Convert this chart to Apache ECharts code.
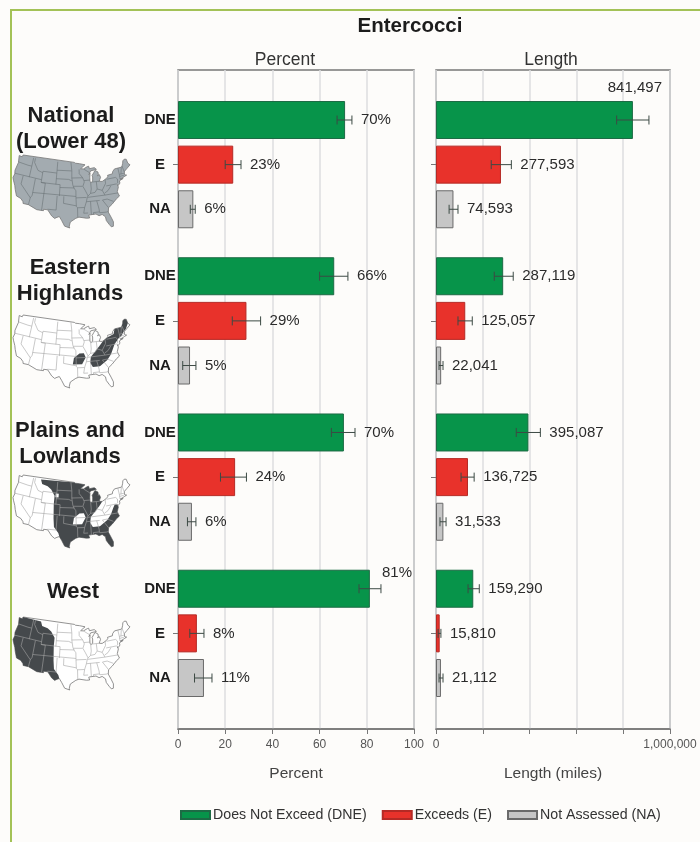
<!DOCTYPE html>
<html><head><meta charset="utf-8">
<style>html,body{margin:0;padding:0;background:#fdfcfa}#c{width:700px;height:842px}</style>
<script src="https://cdn.jsdelivr.net/npm/echarts@6/dist/echarts.min.js"></script>
</head><body><div id="c"></div>
<script>
// ---------- data ----------
const regions = ['National', 'Eastern Highlands', 'Plains and Lowlands', 'West'];
const classes = ['DNE', 'E', 'NA'];
const classNames = ['Does Not Exceed (DNE)', 'Exceeds (E)', 'Not Assessed (NA)'];
const percentBars   = [70.8,23.4,6.5, 66.2,29,5.1, 70.3,24.2,5.9, 81.3,8,11];
const percentLow    = [67.4,20,5.2, 60,23,2, 65,18,4, 76.7,5,7];
const percentHigh   = [73.7,26.7,7.3, 72,35,7.6, 75,29,7.6, 86,11,14.4];
const percentLabels = ['70%','23%','6%','66%','29%','5%','70%','24%','6%','81%','8%','11%'];
const lengthBars    = [841497,277593,74593, 287119,125057,22041, 395087,136725,31533, 159290,15810,21112];
const lengthLow     = [772000,236000,56000, 249000,94000,13000, 343000,107000,17000, 137000,9000,13000];
const lengthHigh    = [910000,322000,94000, 330000,155000,30000, 446000,163000,43000, 185000,21000,30000];
const percentTicks  = [0,20,40,60,80,100];
const lengthTickLabels = {0:'0', 1000000:'1,000,000'};

// ---------- category rows: three bars each, blank rows between groups ----------
const rows = [];
const rowOf = [];
regions.forEach((r, g) => {
  classes.forEach((c, k) => {
    rowOf.push(rows.length);
    rows.push(c);
    if (k < 2) rows.push('');
  });
  if (g < regions.length - 1) rows.push('', '');
});
function barData(vals, k) {
  const out = rows.map(() => null);
  vals.forEach((v, i) => { if (i % 3 === k) out[rowOf[i]] = v; });
  return out;
}

// ---------- decorative US outline (lon, lat) ----------
const usOutline = [[-124.7,48.4],[-123,48.3],[-122.8,49],[-95.2,49],[-94.6,48.7],[-92.5,48.5],[-89.6,48],[-91.5,47],[-92,46.7],[-90.5,46.6],[-88.5,47.3],[-87.8,47.4],[-87.5,46.5],[-85,46.7],[-84.5,46.4],[-84,46],[-85,45.9],[-87,45.7],[-87.6,45],[-88,44.5],[-87.4,44.9],[-87.7,43.5],[-87.8,42],[-87.3,41.6],[-86.5,42],[-86.3,43.5],[-86.5,44],[-85.5,45],[-84.8,45.7],[-83.4,45],[-83.4,44],[-83.9,43.7],[-82.9,44],[-82.5,43],[-83.1,42.2],[-83.4,41.7],[-82,41.5],[-80,42.2],[-79,42.8],[-79,43.3],[-76.5,43.5],[-76.2,44.2],[-75,45],[-71.5,45],[-71,45.3],[-70.3,46.2],[-69.9,47],[-69,47.4],[-68,47.2],[-67.8,45.7],[-67,44.9],[-69,44],[-70.5,43.3],[-70.8,42.7],[-70.8,42],[-70,41.8],[-71.3,41.5],[-73.5,41],[-72,41],[-74,40.5],[-74,39.7],[-75,39],[-75.4,39.4],[-75.1,38.5],[-76,37],[-75.9,36.5],[-75.5,35.3],[-77,34.6],[-78,33.9],[-79.3,33],[-81,32],[-81.4,30.5],[-80.5,28.3],[-80,26.8],[-80.3,25.3],[-81.1,25.2],[-81.8,26.2],[-82.7,27.7],[-82.8,29],[-84,30],[-85.3,29.7],[-86.5,30.4],[-89,30.3],[-89.5,30.2],[-89.2,29.2],[-90.5,29.2],[-93.5,29.7],[-94.8,29.3],[-97,28],[-97.4,26.5],[-97.2,25.9],[-99.2,26.5],[-100.5,28.5],[-101.5,29.8],[-102.8,29.3],[-103.3,29],[-104.6,29.8],[-106.5,31.8],[-108.2,31.8],[-108.2,31.3],[-111,31.3],[-114.8,32.5],[-117.1,32.5],[-117.3,33.1],[-118.5,34],[-120.6,34.5],[-121.9,36.6],[-122.5,37.8],[-123.8,39.5],[-124.4,40.4],[-124.1,41.8],[-124.5,43],[-124,46],[-124.7,48.4]];
const stateLines = [
 [[-124,46.2],[-119,46],[-117,46]],[[-117,49],[-117,46],[-117,42]],[[-124.2,42],[-111,42]],[[-120,42],[-120,39],[-114.6,35]],
 [[-114,42],[-114,36],[-114.6,35],[-114.8,32.5]],[[-116,49],[-116,47.5],[-114.5,46],[-113.5,45],[-111,44.5]],[[-111,45],[-104,45]],
 [[-111,45],[-111,41],[-109,41],[-109,31.3]],[[-111,41],[-102,41]],[[-114,37],[-94.6,37]],[[-104,49],[-104,41]],[[-102,41],[-102,37]],
 [[-103,37],[-103,32],[-106.6,32]],[[-100,37],[-100,34.5],[-94.5,33.7]],[[-104,46],[-96.6,46]],[[-104,43],[-98,43],[-96.5,42.5]],
 [[-97,49],[-96.5,46],[-96.5,43.5],[-96,41],[-95.5,40],[-94.6,39],[-94.6,36.5],[-94.5,33.5],[-94,33],[-94,29.7]],[[-102,40],[-95.3,40]],
 [[-96.5,43.5],[-91.2,43.5]],[[-95.7,40.6],[-91.5,40.5]],[[-92.8,46.5],[-92.8,45],[-91.2,43.5],[-90.5,42],[-91.3,40.5],[-90.2,38.8],[-89.2,37],[-89.6,36.5],[-90.1,35],[-91,33],[-91.5,31],[-89.7,31]],
 [[-94,33],[-91,33]],[[-94.6,36.5],[-90,36.5]],[[-90.1,35],[-84.3,35]],[[-89.5,36.5],[-81.7,36.6],[-75.9,36.5]],[[-88.3,35],[-88.4,30.3]],
 [[-85.6,35],[-85,32],[-85,31],[-87.5,31],[-87.5,30.3]],[[-85,31],[-84.9,30.7],[-82.2,30.6],[-81.4,30.7]],[[-83.1,35],[-81,32]],[[-83.1,35],[-81,35.1],[-78.5,33.9]],
 [[-90.6,42.5],[-87.8,42.5]],[[-90.4,46.5],[-87.6,45.1]],[[-87.5,41.7],[-87.5,39.3],[-88,37.8]],[[-84.8,41.7],[-84.8,39.1]],[[-87,41.75],[-83.4,41.7]],
 [[-89.2,37],[-88,37.8],[-86,38],[-84.8,39.1],[-82.6,38.4],[-80.6,40.6],[-80.5,42]],[[-82.6,38.4],[-81.7,36.6]],[[-81.7,37.3],[-80,38],[-78.3,39.5]],
 [[-80.5,39.7],[-75.7,39.7]],[[-79.8,42],[-75.4,42],[-74.7,41.3],[-75,40],[-75.5,39.8]],[[-73.3,45],[-73.3,42.7],[-73.5,41.1]],[[-71.5,45],[-72.5,42.7]],[[-73.3,42.7],[-71,42.7]],[[-73.4,42],[-71.3,42]],[[-71,45.3],[-70.7,43.1]]
];
const westEdge = [[-113,49],[-112,47.5],[-109,47],[-107,46],[-105,44],[-105,41],[-104.5,36],[-104,33],[-102,31],[-101.5,29.8]];
function outlineSlice(a, b) {
  const find = p => usOutline.findIndex(q => q[0] === p[0] && q[1] === p[1]);
  return usOutline.slice(find(a), find(b) + 1);
}
const eastMain = [[-68,47.2],[-67.8,45.7],[-69.5,44],[-71,43.2],[-72.5,42],[-74,41.5],[-75,40.8],[-76.5,39.8],[-77.5,38.5],[-79,36.5],[-81,34.8],[-84.5,33],[-87.5,33],[-88.5,34.5],[-88,36.5],[-86,38.2],[-83.7,40],[-82,41.3],[-79.5,42.5],[-76,43.3],[-75,45],[-71.5,45],[-70.3,46.2],[-69.9,47],[-69,47.4]];
const ozarks = [[-96,34.2],[-92,34.2],[-90.3,36.5],[-91,38],[-93,38],[-95.5,36.5]];
const blackHills = [[-104.5,44.8],[-103,44.8],[-103,43.5],[-104.5,43.5]];
const westArea = westEdge.concat(outlineSlice([-101.5,29.8],[-124,46]), [[-124.7,48.4],[-123,48.3],[-122.8,49]]);
const plainsArea = [[-113,49]].concat(
  outlineSlice([-95.2,49],[-82,41.5]),
  [[-83.7,40],[-86,38.2],[-88,36.5],[-88.5,34.5],[-87.5,33],[-84.5,33],[-81,34.8],[-79,36.5],[-77.5,38.5],[-76.5,39.6],[-75.4,39.4]],
  outlineSlice([-75.1,38.5],[-101.5,29.8]),
  westEdge.slice().reverse());

function project(p) {
  const n = 0.62, th = n * (p[0] + 96) * Math.PI / 180, rho = 111.3 - p[1];
  return [rho * Math.sin(th), rho * Math.cos(th)];
}
const pts = usOutline.map(project);
const bx0 = Math.min(...pts.map(p => p[0])), bx1 = Math.max(...pts.map(p => p[0]));
const by0 = Math.min(...pts.map(p => p[1])), by1 = Math.max(...pts.map(p => p[1]));
function mapGraphics(left, top, fill, lineCol, dark, white) {
  const w = 117, h = 73;
  const f = p => { const q = project(p); return [left + (q[0] - bx0) / (bx1 - bx0) * w, top + (q[1] - by0) / (by1 - by0) * h]; };
  const out = [];
  const poly = (arr, fc, sc, lw) => out.push({type:'polygon', silent:true, shape:{points:arr.map(f)}, style:{fill:fc, stroke:sc, lineWidth:lw}});
  poly(usOutline, fill, '#777', 0.8);
  dark.forEach(a => poly(a, '#45494c', null, 0));
  white.forEach(a => poly(a, fill, null, 0));
  stateLines.forEach(l => out.push({type:'polyline', silent:true, shape:{points:l.map(f)}, style:{stroke:lineCol, lineWidth:0.6, fill:null}}));
  return out;
}

// ---------- layout ----------
const LP = {left:178, width:236, max:100};
const RP = {left:436, width:234, max:1000000};
const TOP = 70, BOTTOM = 729;
const rowH = 22.32, dataTop = 120 - rowH / 2, dataH = rowH * rows.length;
const FONT = '"Liberation Sans", Arial, sans-serif';
const colors = ['#07944a', '#e8322b', '#c6c6c6'];
const borders = ['#1d6b45', '#b52a25', '#6a6a6a'];

function whiskers(low, high, labels, over) {
  return function (params, api) {
    const i = params.dataIndex;
    const y = api.coord([0, rowOf[i]])[1];
    const x0 = api.coord([low[i], rowOf[i]])[0];
    const x1 = api.coord([high[i], rowOf[i]])[0];
    const cap = 4.5;
    const line = (a, b, c, d) => ({type:'line', silent:true, shape:{x1:a, y1:b, x2:c, y2:d}, style:{stroke:'#3c4a44', lineWidth:1}});
    const o = over[i];
    const text = o
      ? {type:'text', silent:true, style:{text:labels[i], x:params.coordSys.x + params.coordSys.width - o[0], y:y + o[1], align:'right', verticalAlign:'middle', fill:'#2b2b2b', font:'15px ' + FONT}}
      : {type:'text', silent:true, style:{text:labels[i], x:x1 + 9, y:y, align:'left', verticalAlign:'middle', fill:'#2b2b2b', font:'15px ' + FONT}};
    return {type:'group', children:[line(x0,y,x1,y), line(x0,y-cap,x0,y+cap), line(x1,y-cap,x1,y+cap), text]};
  };
}

const barSeries = (vals, xi, yi) => classes.map((c, k) => ({
  type:'bar', name:classNames[k], xAxisIndex:xi, yAxisIndex:yi, clip:false,
  data: barData(vals, k), barWidth:38, barGap:'-100%', silent:true, z:3,
  itemStyle:{color:colors[k], borderColor:borders[k], borderWidth:1}
}));
const errSeries = (low, high, labels, over, xi, yi) => ({
  type:'custom', xAxisIndex:xi, yAxisIndex:yi, silent:true, z:5, clip:false,
  encode:{x:0, y:1}, data: low.map((v, i) => [high[i], rowOf[i]]),
  renderItem: whiskers(low, high, labels, over)
});

const catAxis = (gi, showLabels) => ({
  type:'category', gridIndex:gi, inverse:true, data:rows,
  axisLine:{show:false},
  axisTick:{show:true, alignWithLabel:true, length:5, interval:(i, v) => v === 'E', lineStyle:{color:'#777'}},
  axisLabel:{show:showLabels, interval:0, margin:18, align:'center', fontFamily:FONT, fontSize:15, fontWeight:'bold', color:'#1c1c1c'},
  splitLine:{show:false}
});
const hiddenVal = (gi, max) => ({type:'value', gridIndex:gi, min:0, max:max, show:false});
const frameX = (gi, max, interval, name, fmt) => ({
  type:'value', gridIndex:gi, min:0, max:max, interval:interval, position:'bottom',
  name:name, nameLocation:'middle', nameGap:37, nameTextStyle:{fontFamily:FONT, fontSize:15.5, color:'#444'},
  axisLine:{show:true, lineStyle:{color:'#777', width:1.5}},
  axisTick:{show:true, length:5, lineStyle:{color:'#777'}},
  axisLabel:{margin:10, fontFamily:FONT, fontSize:12, color:'#555', formatter:fmt, showMinLabel:true, showMaxLabel:true, hideOverlap:false},
  splitLine:{show:true, lineStyle:{color:'#dcdedf', width:1.5}}
});
const gridOf = (p, top, h, show) => ({left:p.left, width:p.width, top:top, height:h, show:show, borderColor:'#777', borderWidth:1.5, backgroundColor:'transparent', containLabel:false});

const regionTitle = (text, x, y) => ({text:text, left:x, top:y, textAlign:'center', padding:0, textStyle:{fontFamily:FONT, fontSize:22, fontWeight:'bold', color:'#1c1c1c', lineHeight:26}});
const headTitle = (text, x, y, size, weight) => ({text:text, left:x, top:y, textAlign:'center', padding:0, textStyle:{fontFamily:FONT, fontSize:size, fontWeight:weight, color:weight === 'bold' ? '#1c1c1c' : '#333'}});

const percentOver = percentLabels.map((v, i) => i === 9 ? [2, -16] : null);
const lengthOver  = lengthBars.map((v, i) => i === 0 ? [8, -32] : null);

const graphics = [{type:'rect', silent:true, shape:{x:11, y:10, width:900, height:1000}, style:{fill:null, stroke:'#a3c257', lineWidth:2}}].concat(
  mapGraphics(13, 155, '#a3abb0', '#6a7276', [], []),
  mapGraphics(13, 315, '#ffffff', '#a5a5a5', [eastMain, ozarks], []),
  mapGraphics(13, 475, '#ffffff', '#a5a5a5', [plainsArea], [ozarks, blackHills]),
  mapGraphics(13, 617, '#ffffff', '#a5a5a5', [westArea], [])
);

const chart = echarts.init(document.getElementById('c'), null, {renderer:'canvas', width:700, height:842});
chart.setOption({
  backgroundColor:'#fdfcfa',
  animation:false,
  title:[
    headTitle('Entercocci', 410, 16, 20.5, 'bold'),
    headTitle('Percent', 285, 51, 17.5, 'normal'),
    headTitle('Length', 551, 51, 17.5, 'normal'),
    regionTitle('National\n(Lower 48)', 71, 103),
    regionTitle('Eastern\nHighlands', 70, 255),
    regionTitle('Plains and\nLowlands', 70, 418),
    regionTitle('West', 73, 579)
  ],
  legend:{left:175, top:803, itemWidth:29, itemHeight:8, itemGap:15, icon:'rect', selectedMode:false,
    data:classNames, textStyle:{fontFamily:FONT, fontSize:14.2, color:'#333', padding:[0,0,0,-2]}},
  grid:[
    gridOf(LP, TOP, BOTTOM - TOP, true), gridOf(RP, TOP, BOTTOM - TOP, true),
    gridOf(LP, dataTop, dataH, false), gridOf(RP, dataTop, dataH, false)
  ],
  xAxis:[
    frameX(0, LP.max, percentTicks[1] - percentTicks[0], 'Percent', v => String(v)),
    frameX(1, RP.max, 200000, 'Length (miles)', v => lengthTickLabels[v] || ''),
    hiddenVal(2, LP.max), hiddenVal(3, RP.max)
  ],
  yAxis:[
    {type:'value', gridIndex:0, show:false}, {type:'value', gridIndex:1, show:false},
    catAxis(2, true), catAxis(3, false)
  ],
  series:[
    ...barSeries(percentBars, 2, 2),
    ...barSeries(lengthBars, 3, 3),
    errSeries(percentLow, percentHigh, percentLabels, percentOver, 2, 2),
    errSeries(lengthLow, lengthHigh, lengthBars.map(v => v.toLocaleString('en-US')), lengthOver, 3, 3)
  ],
  graphic:{elements:graphics}
});
</script></body></html>
